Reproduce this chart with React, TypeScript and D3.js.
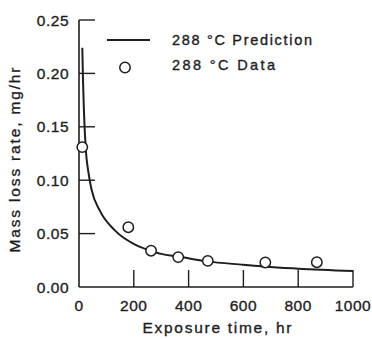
import React from "react";
import * as d3 from "d3";

const curveT = [12, 15, 18, 25, 34, 46, 77, 131, 210, 262, 300, 362, 467, 600, 680, 800, 1000];
const curveV = [0.224, 0.19, 0.165, 0.128, 0.108, 0.091, 0.071, 0.053, 0.039, 0.034, 0.031, 0.0285, 0.024, 0.0208, 0.019, 0.0172, 0.015];
const dataT = [12, 180, 263, 362, 470, 680, 868];
const dataV = [0.131, 0.056, 0.034, 0.028, 0.0245, 0.023, 0.0232];
const xTicks = [0, 200, 400, 600, 800, 1000];
const yTicks = [0, 0.05, 0.1, 0.15, 0.2, 0.25];

export default function App() {
  const W = 372, H = 339;
  const x = d3.scaleLinear().domain([0, 1000]).range([79, 353]);
  const y = d3.scaleLinear().domain([0, 0.25]).range([287, 20]);
  const line = d3
    .line<number>()
    .x((_, i) => x(curveT[i]))
    .y((d) => y(d))
    .curve(d3.curveMonotoneX);
  const ink = "#1e1e1e";
  const font = "'Liberation Sans', Arial, sans-serif";
  const txt = { fontFamily: font, fill: ink, stroke: ink, strokeWidth: 0.35 };
  return (
    <svg width={W} height={H} style={{ position: "absolute", left: 0, top: 0, background: "#fff" }}>
      <rect width={W} height={H} fill="#fff" />
      {/* axes */}
      <line x1={x(0)} x2={x(0)} y1={y(0.25)} y2={y(0)} stroke={ink} strokeWidth={1.6} />
      <line x1={x(0)} x2={x(1000)} y1={y(0)} y2={y(0)} stroke={ink} strokeWidth={1.6} />
      {yTicks.filter((t) => t > 0).map((t) => (
        <line key={"yt" + t} x1={x(0)} x2={x(0) + 16} y1={y(t)} y2={y(t)} stroke={ink} strokeWidth={1.4} />
      ))}
      {xTicks.filter((t) => t > 0).map((t) => (
        <line key={"xt" + t} x1={x(t)} x2={x(t)} y1={y(0)} y2={y(0) - 17} stroke={ink} strokeWidth={1.4} />
      ))}
      {/* tick labels */}
      {yTicks.map((t) => (
        <text key={"yl" + t} x={69} y={y(t) + 5.5} textAnchor="end" fontSize={15.5} letterSpacing={0.5} {...txt}>
          {t.toFixed(2)}
        </text>
      ))}
      {xTicks.map((t) => (
        <text key={"xl" + t} x={x(t)} y={311} textAnchor="middle" fontSize={15.5} letterSpacing={0.5} {...txt}>
          {t}
        </text>
      ))}
      <text x={217} y={333} textAnchor="middle" fontSize={15.5} textLength={149} lengthAdjust="spacing" {...txt}>
        Exposure time, hr
      </text>
      <text
        transform={`translate(20,160) rotate(-90)`}
        textAnchor="middle"
        fontSize={15.5}
        textLength={185}
        lengthAdjust="spacing"
        {...txt}
      >
        Mass loss rate, mg/hr
      </text>
      {/* curve */}
      <path d={line(curveV) || ""} fill="none" stroke={ink} strokeWidth={2} />
      {/* data */}
      {dataV.map((v, i) => (
        <circle key={"d" + i} cx={x(dataT[i])} cy={y(v)} r={5.2} fill="#fff" stroke={ink} strokeWidth={1.5} />
      ))}
      {/* legend */}
      <line x1={107} x2={150} y1={40} y2={40} stroke={ink} strokeWidth={2.2} />
      <circle cx={125} cy={67.5} r={5.2} fill="#fff" stroke={ink} strokeWidth={1.5} />
      <text x={172} y={45} fontSize={14.5} textLength={140} lengthAdjust="spacing" {...txt}>
        288 °C Prediction
      </text>
      <text x={172} y={70} fontSize={14.5} textLength={103} lengthAdjust="spacing" {...txt}>
        288 °C Data
      </text>
    </svg>
  );
}
